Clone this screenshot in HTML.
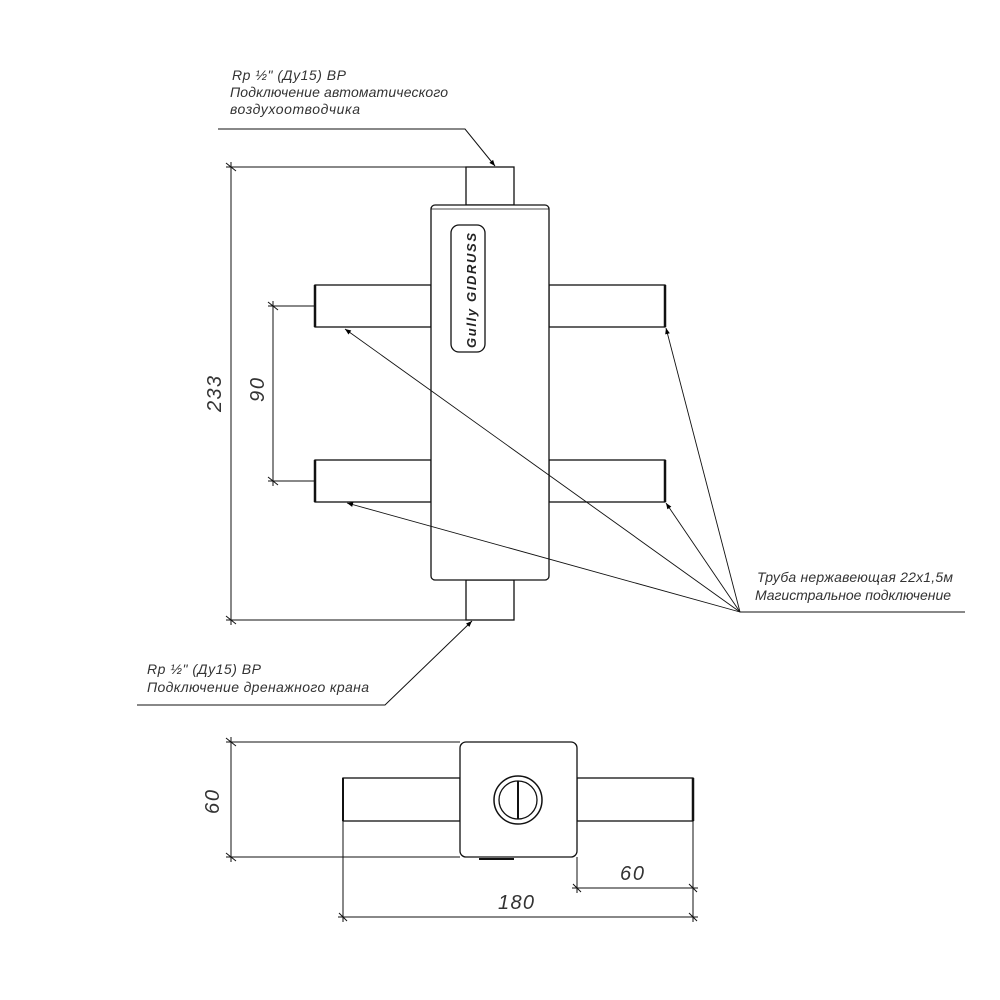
<!DOCTYPE html>
<html><head><meta charset="utf-8"><style>html,body{margin:0;padding:0;background:#fff}svg{display:block}text{font-family:"Liberation Sans",sans-serif;font-style:italic;fill:#333}</style></head><body>
<svg width="1000" height="1000" viewBox="0 0 1000 1000" xmlns="http://www.w3.org/2000/svg">
<defs><marker id="a" viewBox="0 0 10 10" refX="10" refY="5" markerWidth="12" markerHeight="6" orient="auto" markerUnits="userSpaceOnUse"><path d="M0,1 L10,5 L0,9 z" fill="#000"/></marker></defs>
<g fill="none" stroke="#111" stroke-width="1.3">
<rect x="466" y="167" width="48" height="38"/>
<rect x="466" y="580" width="48" height="40"/>
<rect x="315" y="285" width="116" height="42"/>
<rect x="315" y="460" width="116" height="42"/>
<rect x="549" y="285" width="116" height="42"/>
<rect x="549" y="460" width="116" height="42"/>
<rect x="431" y="205" width="118" height="375" rx="4" fill="#fff"/>
<line x1="431" y1="209" x2="549" y2="209" stroke-width="0.8"/>
<rect x="451" y="225" width="34" height="127" rx="8"/>
<line x1="315" y1="285" x2="315" y2="327" stroke-width="2.5"/>
<line x1="315" y1="460" x2="315" y2="502" stroke-width="2.5"/>
<line x1="665" y1="285" x2="665" y2="327" stroke-width="2.5"/>
<line x1="665" y1="460" x2="665" y2="502" stroke-width="2.5"/>
<line x1="231" y1="162" x2="231" y2="625" stroke-width="1"/>
<line x1="226" y1="167" x2="466" y2="167" stroke-width="1"/>
<line x1="226" y1="620" x2="466" y2="620" stroke-width="1"/>
<path d="M226,163 L236,171 M226,616 L236,624" stroke-width="1"/>
<line x1="273" y1="301" x2="273" y2="486" stroke-width="1"/>
<line x1="268" y1="306" x2="315" y2="306" stroke-width="1"/>
<line x1="268" y1="481" x2="315" y2="481" stroke-width="1"/>
<path d="M268,302 L278,310 M268,477 L278,485" stroke-width="1"/>
<polyline points="218,129 465,129 495,166" stroke-width="1" marker-end="url(#a)"/>
<polyline points="137,705 385,705 472,621" stroke-width="1" marker-end="url(#a)"/>
<line x1="740" y1="612" x2="965" y2="612" stroke-width="1"/>
<line x1="740" y1="612" x2="345" y2="329" stroke-width="0.9" marker-end="url(#a)"/>
<line x1="740" y1="612" x2="347" y2="503" stroke-width="0.9" marker-end="url(#a)"/>
<line x1="740" y1="612" x2="666" y2="328" stroke-width="0.9" marker-end="url(#a)"/>
<line x1="740" y1="612" x2="666" y2="503" stroke-width="0.9" marker-end="url(#a)"/>
<rect x="343" y="778" width="117" height="43"/>
<rect x="577" y="778" width="116" height="43"/>
<line x1="693" y1="778" x2="693" y2="821" stroke-width="2.5"/>
<line x1="343" y1="778" x2="343" y2="821" stroke-width="2"/>
<rect x="460" y="742" width="117" height="115" rx="6" fill="#fff"/>
<line x1="479" y1="859" x2="514" y2="859" stroke-width="2"/>
<circle cx="518" cy="800" r="24" stroke-width="1.5"/>
<circle cx="518" cy="800" r="19" stroke-width="1.3"/>
<line x1="518" y1="781" x2="518" y2="819" stroke-width="2"/>
<line x1="231" y1="737" x2="231" y2="862" stroke-width="1"/>
<line x1="226" y1="742" x2="460" y2="742" stroke-width="1"/>
<line x1="226" y1="857" x2="460" y2="857" stroke-width="1"/>
<path d="M226,738 L236,746 M226,853 L236,861" stroke-width="1"/>
<line x1="343" y1="821" x2="343" y2="922" stroke-width="1"/>
<line x1="693" y1="821" x2="693" y2="922" stroke-width="1"/>
<line x1="338" y1="917" x2="698" y2="917" stroke-width="1"/>
<path d="M339,913 L347,921 M689,913 L697,921" stroke-width="1"/>
<line x1="577" y1="857" x2="577" y2="893" stroke-width="1"/>
<line x1="572" y1="888" x2="698" y2="888" stroke-width="1"/>
<path d="M573,884 L581,892 M689,884 L697,892" stroke-width="1"/>
</g>
<text x="0" y="0" font-size="13" transform="translate(476,348) rotate(-90)" font-weight="bold" textLength="115" style="fill:#222">Gully GIDRUSS</text>
<text x="232" y="80" font-size="14" textLength="114">Rp ½" (Ду15) ВР</text>
<text x="230" y="97" font-size="14" textLength="218">Подключение автоматического</text>
<text x="230" y="114" font-size="14" textLength="130">воздухоотводчика</text>
<text x="147" y="674" font-size="14" textLength="114">Rp ½" (Ду15) ВР</text>
<text x="147" y="692" font-size="14" textLength="222">Подключение дренажного крана</text>
<text x="757" y="582" font-size="14" textLength="196">Труба нержавеющая 22х1,5м</text>
<text x="755" y="600" font-size="14" textLength="196">Магистральное подключение</text>
<text font-size="20" transform="translate(221,412) rotate(-90)" textLength="36">233</text>
<text font-size="20" transform="translate(264,402) rotate(-90)" textLength="24">90</text>
<text font-size="20" transform="translate(219,814) rotate(-90)" textLength="24">60</text>
<text x="620" y="880" font-size="20" textLength="24">60</text>
<text x="498" y="909" font-size="20" textLength="36">180</text>
</svg>
</body></html>
